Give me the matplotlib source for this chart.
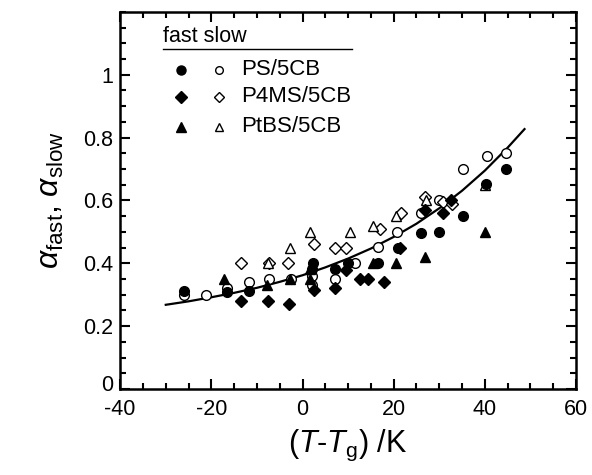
import matplotlib
matplotlib.use("Agg")
import matplotlib.pyplot as plt
import matplotlib.transforms as mtransforms
from matplotlib.ticker import MultipleLocator, FixedLocator

plt.rcParams['font.family'] = ['Liberation Sans', 'DejaVu Sans']
plt.rcParams['mathtext.fontset'] = 'custom'
plt.rcParams['mathtext.rm'] = 'Liberation Sans'
plt.rcParams['mathtext.it'] = 'Liberation Sans:italic'
plt.rcParams['axes.unicode_minus'] = False

# === dados ===
ps_fast_x = [-26, -16.6, -11.8, 2.3, 2.0, 7.2, 10, 16.6, 21, 26, 30, 35.2, 40.3, 44.7]
ps_fast_y = [0.311, 0.31, 0.311, 0.40, 0.383, 0.383, 0.40, 0.40, 0.45, 0.496, 0.50, 0.55, 0.653, 0.70]
ps_slow_x = [-26, -21.2, -16.6, -11.8, -7.4, -2.6, 2.1, 2.1, 7.2, 11.6, 16.6, 20.8, 26, 30, 35.2, 40.4, 44.7]
ps_slow_y = [0.30, 0.30, 0.32, 0.34, 0.35, 0.35, 0.36, 0.33, 0.35, 0.40, 0.452, 0.50, 0.56, 0.60, 0.70, 0.74, 0.75]

p4ms_fast_x = [-13.5, -7.5, -3, 2.6, 7.1, 9.5, 12.6, 14.4, 17.9, 21.3, 26.8, 30.8, 32.6]
p4ms_fast_y = [0.28, 0.28, 0.27, 0.314, 0.32, 0.378, 0.35, 0.35, 0.34, 0.45, 0.57, 0.56, 0.60]
p4ms_slow_x = [-13.5, -7.4, -3.1, 2.6, 7.1, 9.5, 16.9, 21.7, 26.8, 30.8, 32.8]
p4ms_slow_y = [0.40, 0.40, 0.40, 0.46, 0.45, 0.45, 0.51, 0.56, 0.61, 0.595, 0.59]

ptbs_fast_x = [-17.2, -7.7, -2.8, 1.75, 1.75, 15.5, 20.6, 26.8, 40.1]
ptbs_fast_y = [0.35, 0.33, 0.35, 0.383, 0.35, 0.40, 0.40, 0.42, 0.50]
ptbs_slow_x = [-7.6, -2.8, 1.75, 10.4, 15.5, 20.6, 27, 40.1]
ptbs_slow_y = [0.40, 0.45, 0.50, 0.50, 0.52, 0.55, 0.60, 0.65]

# curva ajustada
curva_x = [-30, -25, -20, -15, -10, -5, 0, 5, 10, 15, 20, 25, 30, 35, 40, 45, 48.7]
curva_y = [0.268, 0.279, 0.292, 0.306, 0.322, 0.341, 0.362, 0.387, 0.415, 0.447,
           0.484, 0.526, 0.575, 0.631, 0.695, 0.768, 0.827]

legenda_nomes = ['PS/5CB', 'P4MS/5CB', 'PtBS/5CB']
legenda_marcadores = ['o', 'D', '^']

# === figura ===
fig = plt.figure(figsize=(5.92, 4.75), dpi=100)
ax = fig.add_axes([0.203, 0.181, 0.770, 0.794])

ax.plot(curva_x, curva_y, color='black', lw=1.6, zorder=1)

ms = 7
ax.plot(ps_slow_x, ps_slow_y, 'o', mfc='white', mec='black', mew=1, ms=ms, ls='none', zorder=2)
ax.plot(ps_fast_x, ps_fast_y, 'o', color='black', ms=ms, ls='none', zorder=3)
ax.plot(p4ms_slow_x, p4ms_slow_y, 'D', mfc='white', mec='black', mew=1, ms=ms - 1, ls='none', zorder=2)
ax.plot(p4ms_fast_x, p4ms_fast_y, 'D', color='black', ms=ms - 1, ls='none', zorder=3)
ax.plot(ptbs_slow_x, ptbs_slow_y, '^', mfc='white', mec='black', mew=1, ms=ms + 0.5, ls='none', zorder=2)
ax.plot(ptbs_fast_x, ptbs_fast_y, '^', color='black', ms=ms + 0.5, ls='none', zorder=3)

# legenda desenhada a mão
ax.text(0.0945, 0.934, 'fast slow', transform=ax.transAxes, fontsize=15.5, va='center', ha='left')
ax.plot([0.0945, 0.508], [0.902, 0.902], transform=ax.transAxes, color='black', lw=1, clip_on=False)
linhas_y = [0.846, 0.775, 0.695]
for nome, mk, yy in zip(legenda_nomes, legenda_marcadores, linhas_y):
    tam = {'o': 6.5, 'D': 6, '^': 7}[mk]
    ax.plot([0.134], [yy], mk, color='black', ms=tam, transform=ax.transAxes)
    ax.plot([0.2176], [yy], mk, mfc='white', mec='black', mew=1, ms=tam - 1, transform=ax.transAxes)
    ax.text(0.266, yy, nome, transform=ax.transAxes, fontsize=16, va='center', ha='left')

ax.set_xlim(-40, 60)
ax.set_ylim(0, 1.2)
ax.xaxis.set_major_locator(MultipleLocator(20))
ax.xaxis.set_minor_locator(MultipleLocator(5))
ax.yaxis.set_major_locator(FixedLocator([0, 0.2, 0.4, 0.6, 0.8, 1.0]))
ax.yaxis.set_minor_locator(MultipleLocator(0.05))
ax.set_yticklabels(['0', '0.2', '0.4', '0.6', '0.8', '1'])

ax.tick_params(which='both', direction='in', top=True, right=True, labelsize=15.5, width=1.5)
ax.tick_params(which='major', length=7)
ax.tick_params(which='minor', length=4)
ax.tick_params(axis='x', which='major', pad=7)
ax.tick_params(axis='y', which='major', pad=5)
for s in ax.spines.values():
    s.set_linewidth(1.8)

# sobe um pouco o "0" do eixo y para não encostar no "-40"
rotulo0 = ax.get_yticklabels()[0]
rotulo0.set_transform(rotulo0.get_transform() + mtransforms.ScaledTranslation(0, 4 / 72, fig.dpi_scale_trans))

ax.set_xlabel(r'($\mathit{T}$-$\mathit{T}_{\mathrm{g}}$) /K', fontsize=22, labelpad=6)
ax.set_ylabel(r'$\alpha_{\mathrm{fast}}$, $\alpha_{\mathrm{slow}}$', fontsize=23, labelpad=12)

fig.savefig('out.png', dpi=100)
